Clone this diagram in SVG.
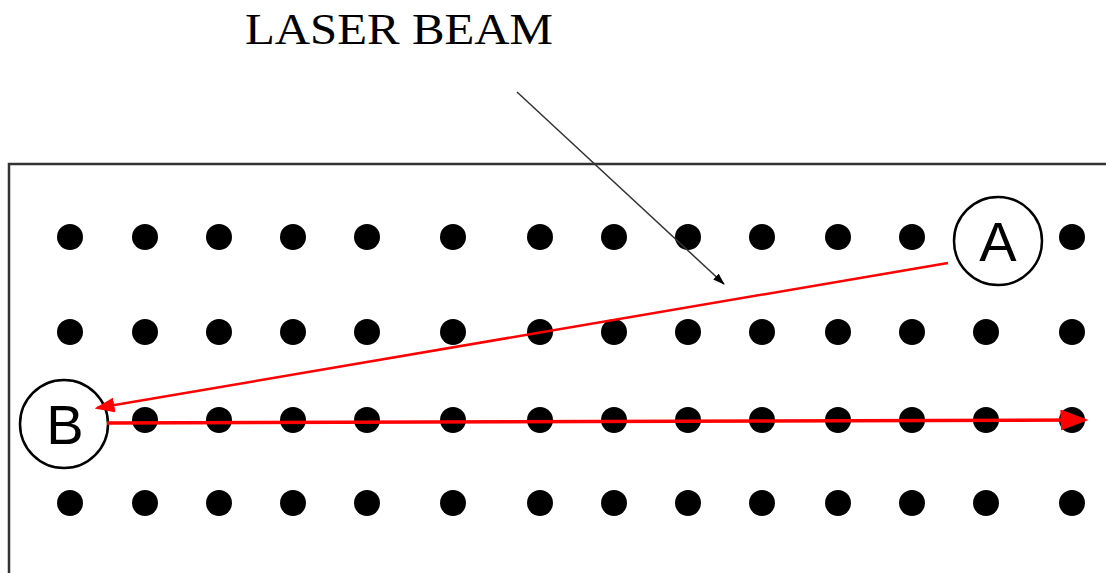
<svg xmlns="http://www.w3.org/2000/svg" width="1106" height="573" viewBox="0 0 1106 573">
<style>
.dot{fill:#000}
.lbl{font-family:"Liberation Sans",Arial,sans-serif;font-size:56px;fill:#000;text-anchor:middle}
.ring{fill:#fff;stroke:#000;stroke-width:2.5}
.red{stroke:#ff0000;fill:none}
</style>
<defs>
<marker id="rh" markerWidth="8" markerHeight="6" refX="7" refY="3" orient="auto" markerUnits="strokeWidth"><path d="M0,0 L8,3 L0,6 Z" fill="#ff0000"/></marker>
<marker id="bh" markerWidth="12" markerHeight="8" refX="11" refY="4" orient="auto" markerUnits="userSpaceOnUse"><path d="M0,0 L12,4 L0,8 Z" fill="#000"/></marker>
</defs>
<rect width="1106" height="573" fill="#fff"/>
<g id="frame"><path d="M9,573 V164 H1106" fill="none" stroke="#333" stroke-width="2.5"/></g>
<g id="title"><text x="245" y="44" textLength="308" lengthAdjust="spacingAndGlyphs" font-family="Liberation Serif,Times New Roman,serif" font-size="45" fill="#000">LASER BEAM</text></g>
<g id="dots">
<g id="row1">
<circle class="dot" cx="70" cy="237" r="13"/><circle class="dot" cx="145" cy="237" r="13"/><circle class="dot" cx="219" cy="237" r="13"/><circle class="dot" cx="293" cy="237" r="13"/><circle class="dot" cx="367" cy="237" r="13"/><circle class="dot" cx="453" cy="237" r="13"/><circle class="dot" cx="540" cy="237" r="13"/><circle class="dot" cx="614" cy="237" r="13"/><circle class="dot" cx="688" cy="237" r="13"/><circle class="dot" cx="762" cy="237" r="13"/><circle class="dot" cx="838" cy="237" r="13"/><circle class="dot" cx="912" cy="237" r="13"/><circle class="dot" cx="1072" cy="237" r="13"/>
</g>
<g id="row2">
<circle class="dot" cx="70" cy="332" r="13"/><circle class="dot" cx="145" cy="332" r="13"/><circle class="dot" cx="219" cy="332" r="13"/><circle class="dot" cx="293" cy="332" r="13"/><circle class="dot" cx="367" cy="332" r="13"/><circle class="dot" cx="453" cy="332" r="13"/><circle class="dot" cx="540" cy="332" r="13"/><circle class="dot" cx="614" cy="332" r="13"/><circle class="dot" cx="688" cy="332" r="13"/><circle class="dot" cx="762" cy="332" r="13"/><circle class="dot" cx="838" cy="332" r="13"/><circle class="dot" cx="912" cy="332" r="13"/><circle class="dot" cx="986" cy="332" r="13"/><circle class="dot" cx="1072" cy="332" r="13"/>
</g>
<g id="row3">
<circle class="dot" cx="145" cy="420" r="13"/><circle class="dot" cx="219" cy="420" r="13"/><circle class="dot" cx="293" cy="420" r="13"/><circle class="dot" cx="367" cy="420" r="13"/><circle class="dot" cx="453" cy="420" r="13"/><circle class="dot" cx="540" cy="420" r="13"/><circle class="dot" cx="614" cy="420" r="13"/><circle class="dot" cx="688" cy="420" r="13"/><circle class="dot" cx="762" cy="420" r="13"/><circle class="dot" cx="838" cy="420" r="13"/><circle class="dot" cx="912" cy="420" r="13"/><circle class="dot" cx="986" cy="420" r="13"/><circle class="dot" cx="1072" cy="420" r="13"/>
</g>
<g id="row4">
<circle class="dot" cx="70" cy="503" r="13"/><circle class="dot" cx="145" cy="503" r="13"/><circle class="dot" cx="219" cy="503" r="13"/><circle class="dot" cx="293" cy="503" r="13"/><circle class="dot" cx="367" cy="503" r="13"/><circle class="dot" cx="453" cy="503" r="13"/><circle class="dot" cx="540" cy="503" r="13"/><circle class="dot" cx="614" cy="503" r="13"/><circle class="dot" cx="688" cy="503" r="13"/><circle class="dot" cx="762" cy="503" r="13"/><circle class="dot" cx="838" cy="503" r="13"/><circle class="dot" cx="912" cy="503" r="13"/><circle class="dot" cx="986" cy="503" r="13"/><circle class="dot" cx="1072" cy="503" r="13"/>
</g>
</g>
<g id="nodeA"><circle class="ring" cx="998" cy="241" r="44"/><text class="lbl" x="998" y="261">A</text></g>
<g id="nodeB"><circle class="ring" cx="64" cy="424" r="44"/><text class="lbl" x="65" y="444">B</text></g>
<g id="connectors">
<line x1="517" y1="92" x2="724" y2="284" stroke="#333" stroke-width="1.5" marker-end="url(#bh)"/>
<line class="red" x1="948" y1="263" x2="97" y2="408" stroke-width="2.5" marker-end="url(#rh)"/>
<line class="red" x1="107" y1="423" x2="1085" y2="420" stroke-width="3.5" marker-end="url(#rh)"/>
</g>
</svg>
